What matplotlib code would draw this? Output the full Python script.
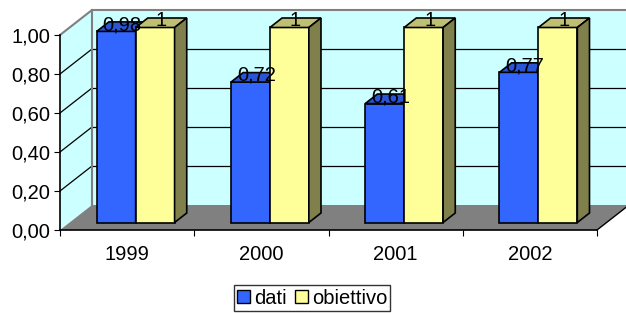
import matplotlib.pyplot as plt
from matplotlib.patches import Polygon, Patch

plt.rcParams['font.family'] = ['Liberation Sans', 'DejaVu Sans']

years = ['1999', '2000', '2001', '2002']
dati = [0.98, 0.72, 0.61, 0.77]
obiettivo = [1, 1, 1, 1]
dati_labels = ['0,98', '0,72', '0,61', '0,77']
obiettivo_labels = ['1', '1', '1', '1']
yticks = [0.0, 0.2, 0.4, 0.6, 0.8, 1.0]

W, H = 626, 313
FS = 14.5
fig = plt.figure(figsize=(W / 100, H / 100), dpi=100)
ax = fig.add_axes([60 / W, (H - 230) / H, 537 / W, 195 / H])
n = len(years)
ax.set_xlim(0, n)
ax.set_ylim(0, 1)

# depth of the 3d box, in data units
DX, DY = 32 / 134.25, 25 / 195
F, B = 0.30, 0.68   # bar front / back depth fractions
bw = 0.29

wall = '#CCFFFF'
edge_gray = '#808080'


def poly(pts, fc, ec='none', lw=1.0, z=1):
    ax.add_patch(Polygon(pts, closed=True, facecolor=fc, edgecolor=ec,
                         linewidth=lw, clip_on=False, zorder=z))


# side wall, back wall, floor
poly([(0, 0), (0, 1), (DX, 1 + DY), (DX, DY)], wall, z=0.5)
poly([(DX, DY), (DX, 1 + DY), (n + DX, 1 + DY), (n + DX, DY)], wall, z=0.5)
poly([(0, 0), (n, 0), (n + DX, DY), (DX, DY)], '#808080', z=0.6)

for v in yticks[1:-1]:
    ax.plot([DX, n + DX], [v + DY, v + DY], color='black', lw=0.9,
            clip_on=False, zorder=0.7)
    ax.plot([0, DX], [v, v + DY], color='black', lw=0.9,
            clip_on=False, zorder=0.7)
ax.plot([0, DX, n + DX], [1, 1 + DY, 1 + DY], color=edge_gray, lw=1.5,
        clip_on=False, zorder=0.8)
ax.plot([DX, DX], [DY, 1 + DY], color=edge_gray, lw=1.5,
        clip_on=False, zorder=0.8)
ax.plot([n, n + DX], [0, DY], color='black', lw=1.0, clip_on=False, zorder=0.8)


def bar3d(x0, v, front, top, side, z):
    fx, fy = DX * F, DY * F
    bx, by = DX * B, DY * B
    poly([(x0 + fx, fy), (x0 + bw + fx, fy), (x0 + bw + fx, fy + v),
          (x0 + fx, fy + v)], front, 'black', 1.2, z)
    poly([(x0 + fx, fy + v), (x0 + bw + fx, fy + v), (x0 + bw + bx, by + v),
          (x0 + bx, by + v)], top, 'black', 1.2, z)
    poly([(x0 + bw + fx, fy), (x0 + bw + bx, by), (x0 + bw + bx, by + v),
          (x0 + bw + fx, fy + v)], side, 'black', 1.2, z)


mid = (F + B) / 2
for i in range(n):
    c = i + 0.5 - 0.008
    bar3d(c - bw, dati[i], '#3366FF', '#2A55D6', '#1A3380', 2 + i)
    bar3d(c, obiettivo[i], '#FFFF99', '#BFBF73', '#80804D', 2.5 + i)
    ax.text(c - bw / 2 + DX * mid, dati[i] + DY * mid + 0.01, dati_labels[i],
            ha='center', va='center', fontsize=FS, zorder=20)
    ax.text(c + bw / 2 + DX * mid, obiettivo[i] + DY * mid + 0.01,
            obiettivo_labels[i], ha='center', va='center', fontsize=FS,
            zorder=20)

for s in ['top', 'right']:
    ax.spines[s].set_visible(False)
for s in ['left', 'bottom']:
    ax.spines[s].set_color('black')
    ax.spines[s].set_linewidth(1.2)
    ax.spines[s].set_zorder(10)
ax.patch.set_visible(False)

ax.set_yticks(yticks)
ax.set_yticklabels([f'{v:.2f}'.replace('.', ',') for v in yticks], fontsize=FS)
ax.set_xticks(range(n + 1))
ax.set_xticklabels([])
ax.set_xticks([i + 0.5 for i in range(n)], minor=True)
ax.set_xticklabels(years, minor=True, fontsize=FS)
ax.tick_params(axis='x', which='minor', length=0, pad=11)
ax.tick_params(axis='x', which='major', length=4, direction='out')
ax.tick_params(axis='y', length=4, direction='out', pad=3)

handles = [Patch(facecolor='#3366FF', edgecolor='black', label='dati'),
           Patch(facecolor='#FFFF99', edgecolor='black', label='obiettivo')]
leg = fig.legend(handles=handles, loc='center', ncol=2,
                 bbox_to_anchor=(312 / W, 1 - 298 / H), fontsize=FS,
                 frameon=True, fancybox=False, handlelength=0.65,
                 handleheight=0.65, handletextpad=0.2, columnspacing=0.4,
                 borderpad=0.15, borderaxespad=0)
leg.get_frame().set_edgecolor('black')
leg.get_frame().set_linewidth(1.0)

fig.savefig('out.png', dpi=100)
